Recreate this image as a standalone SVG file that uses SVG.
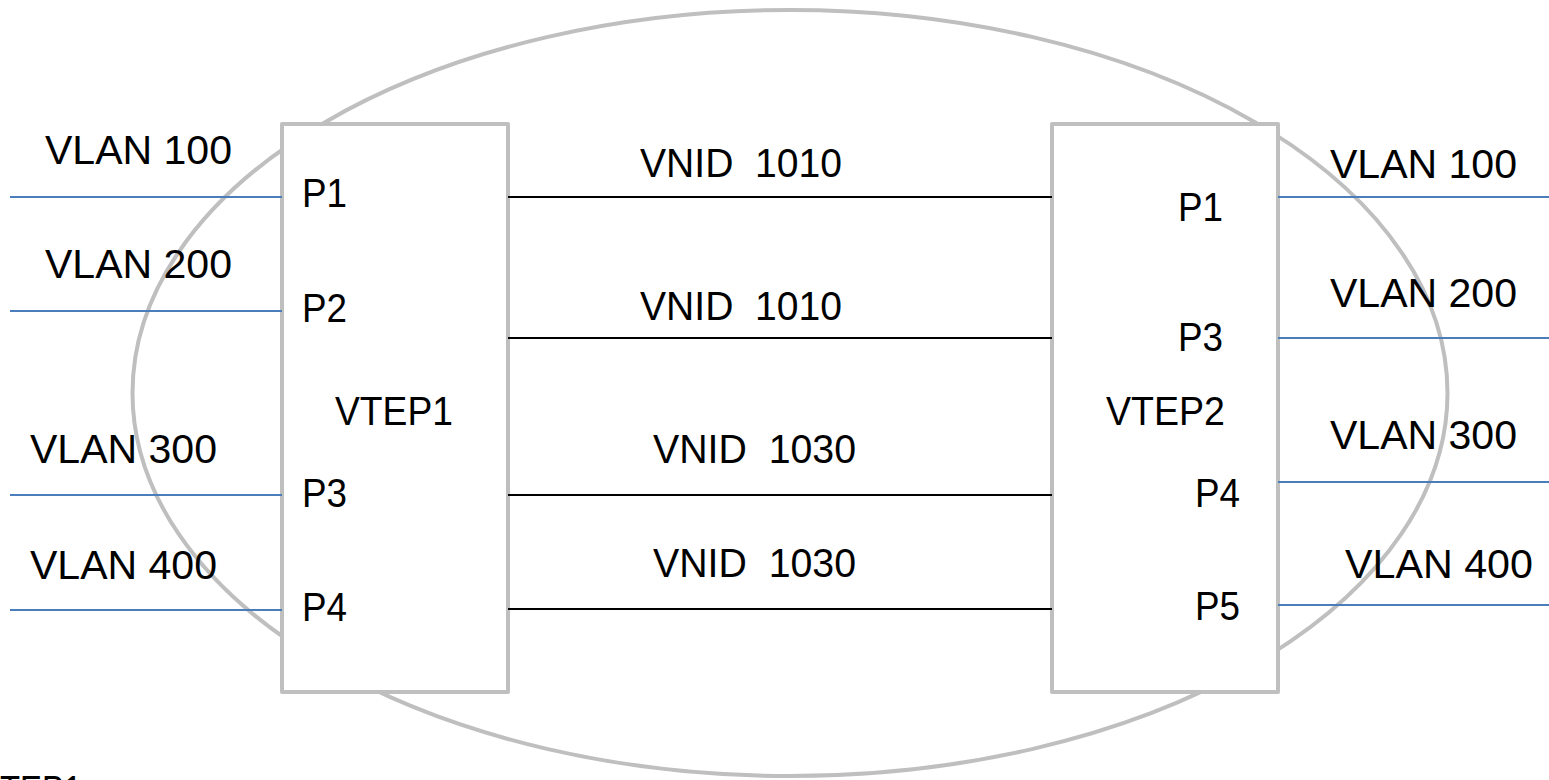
<svg xmlns="http://www.w3.org/2000/svg" width="1549" height="780" viewBox="0 0 1549 780">
<style>
  .bg { fill: #ffffff; }
  .cloud { fill: none; stroke: #BFBFBF; stroke-width: 4; }
  .box { fill: #ffffff; stroke: #BFBFBF; stroke-width: 4; stroke-linejoin: round; }
  .vlan { stroke: #4A7EBB; stroke-width: 2; fill: none; }
  .vnid { stroke: #000000; stroke-width: 2; fill: none; }
  text { font-family: "Liberation Sans", Arial, sans-serif; font-size: 41px; fill: #000000; }
</style>
<rect class="bg" x="0" y="0" width="1549" height="780"/>
<g id="domain">
  <ellipse class="cloud" cx="790" cy="393" rx="657.5" ry="383"/>
</g>
<g id="vtep1">
  <rect class="box" x="282" y="124" width="226" height="568"/>
  <text x="302" y="207" textLength="45" lengthAdjust="spacingAndGlyphs">P1</text>
  <text x="302" y="322" textLength="45" lengthAdjust="spacingAndGlyphs">P2</text>
  <text x="335" y="425" textLength="118" lengthAdjust="spacingAndGlyphs">VTEP1</text>
  <text x="302" y="507" textLength="45" lengthAdjust="spacingAndGlyphs">P3</text>
  <text x="302" y="621" textLength="45" lengthAdjust="spacingAndGlyphs">P4</text>
</g>
<g id="vtep2">
  <rect class="box" x="1052" y="124" width="226" height="568"/>
  <text x="1178" y="221" textLength="45" lengthAdjust="spacingAndGlyphs">P1</text>
  <text x="1178" y="351" textLength="45" lengthAdjust="spacingAndGlyphs">P3</text>
  <text x="1106" y="425" textLength="119" lengthAdjust="spacingAndGlyphs">VTEP2</text>
  <text x="1195" y="507" textLength="45" lengthAdjust="spacingAndGlyphs">P4</text>
  <text x="1195" y="620" textLength="45" lengthAdjust="spacingAndGlyphs">P5</text>
</g>
<g id="connectors">
  <line class="vlan" x1="10" y1="197" x2="282" y2="197"/>
  <line class="vlan" x1="10" y1="311" x2="282" y2="311"/>
  <line class="vlan" x1="10" y1="495" x2="282" y2="495"/>
  <line class="vlan" x1="10" y1="610" x2="282" y2="610"/>
  <line class="vlan" x1="1278" y1="197" x2="1549" y2="197"/>
  <line class="vlan" x1="1278" y1="338" x2="1549" y2="338"/>
  <line class="vlan" x1="1278" y1="482" x2="1549" y2="482"/>
  <line class="vlan" x1="1278" y1="605" x2="1549" y2="605"/>
  <line class="vnid" x1="508" y1="197" x2="1052" y2="197"/>
  <line class="vnid" x1="508" y1="338" x2="1052" y2="338"/>
  <line class="vnid" x1="508" y1="495" x2="1052" y2="495"/>
  <line class="vnid" x1="508" y1="609" x2="1052" y2="609"/>
</g>
<g id="labels">
  <text x="45" y="164" textLength="187" lengthAdjust="spacingAndGlyphs">VLAN 100</text>
  <text x="45" y="278" textLength="187" lengthAdjust="spacingAndGlyphs">VLAN 200</text>
  <text x="30" y="463" textLength="187" lengthAdjust="spacingAndGlyphs">VLAN 300</text>
  <text x="30" y="579" textLength="187" lengthAdjust="spacingAndGlyphs">VLAN 400</text>
  <text x="1330" y="178" textLength="187" lengthAdjust="spacingAndGlyphs">VLAN 100</text>
  <text x="1330" y="307" textLength="187" lengthAdjust="spacingAndGlyphs">VLAN 200</text>
  <text x="1330" y="449" textLength="187" lengthAdjust="spacingAndGlyphs">VLAN 300</text>
  <text x="1345" y="578" textLength="188" lengthAdjust="spacingAndGlyphs">VLAN 400</text>
  <text x="640" y="177" textLength="202" lengthAdjust="spacingAndGlyphs" xml:space="preserve">VNID  1010</text>
  <text x="640" y="320" textLength="202" lengthAdjust="spacingAndGlyphs" xml:space="preserve">VNID  1010</text>
  <text x="653" y="463" textLength="203" lengthAdjust="spacingAndGlyphs" xml:space="preserve">VNID  1030</text>
  <text x="653" y="577" textLength="203" lengthAdjust="spacingAndGlyphs" xml:space="preserve">VNID  1030</text>
  <text x="0" y="804" textLength="82" lengthAdjust="spacingAndGlyphs">TEP1</text>
</g>
</svg>
